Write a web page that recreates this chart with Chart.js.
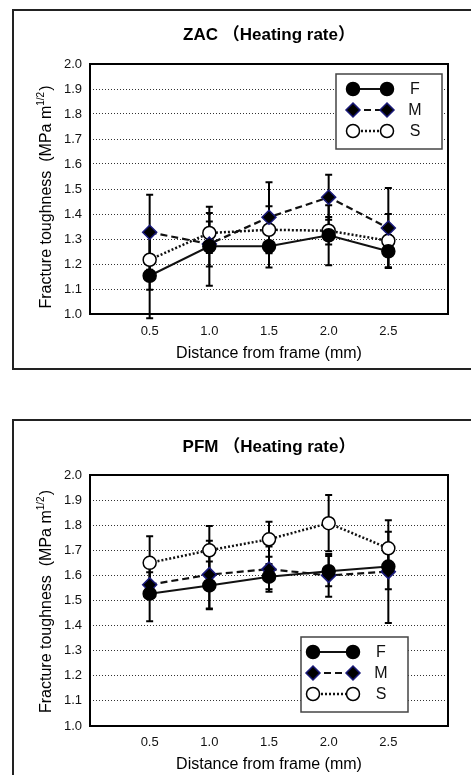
<!DOCTYPE html>
<html>
<head>
<meta charset="utf-8">
<script src="https://cdn.jsdelivr.net/npm/chart.js@4"></script>
<style>
  html, body { margin: 0; padding: 0; background: #fff; width: 471px; height: 775px; overflow: hidden; position: relative; }
  .panel { position: absolute; left: 12px; width: 480px; border: 2px solid #222; box-sizing: border-box; }
  #p1 { top: 9px; height: 361px; }
  #p2 { top: 419px; height: 400px; }
  canvas { position: absolute; left: 15px; }
  #c1 { top: 12px; }
  #c2 { top: 422px; }
</style>
</head>
<body>
<div class="panel" id="p1"></div>
<div class="panel" id="p2"></div>
<canvas id="c1" width="456" height="355"></canvas>
<canvas id="c2" width="456" height="353"></canvas>
<script>
// Fracture toughness vs distance from frame — 2 panel (ZAC / PFM)
const distances   = [0.5, 1.0, 1.5, 2.0, 2.5];
const xTickLabels = ['0.5', '1.0', '1.5', '2.0', '2.5'];

// ZAC
const zacF    = [1.153, 1.271, 1.271, 1.315, 1.251];
const zacFErr = [0.17, 0.158, 0.085, 0.12, 0.065];
const zacM    = [1.327, 1.28, 1.387, 1.467, 1.344];
const zacMErr = [0.15, 0.09, 0.14, 0.09, 0.16];
const zacS    = [1.217, 1.324, 1.337, 1.333, 1.293];
const zacSErr = [0.12, 0.08, 0.094, 0.055, 0.107];

// PFM
const pfmF    = [1.527, 1.56, 1.595, 1.617, 1.635];
const pfmFErr = [0.11, 0.095, 0.05, 0.06, 0.09];
const pfmM    = [1.563, 1.603, 1.625, 1.60, 1.615];
const pfmMErr = [0.05, 0.135, 0.09, 0.085, 0.205];
const pfmS    = [1.65, 1.70, 1.744, 1.808, 1.708];
const pfmSErr = [0.106, 0.097, 0.07, 0.112, 0.066];

const FONT = '"Liberation Sans", Arial, sans-serif';

const STYLE = {
  F: { pointStyle: 'circle',  radius: 6.5, bg: '#000', border: '#000',    dash: [],     lw: 2 },
  M: { pointStyle: 'rectRot', radius: 7,   bg: '#000', border: '#1a1a7a', dash: [7, 4], lw: 2.2 },
  S: { pointStyle: 'circle',  radius: 6.5, bg: '#fff', border: '#000',    dash: [2, 2], lw: 2.5 },
};

function ds(name, ys, errs) {
  const st = STYLE[name];
  return {
    label: name,
    data: distances.map((x, i) => ({ x, y: ys[i] })),
    errs: errs,
    borderColor: '#111', borderWidth: st.lw, borderDash: st.dash,
    pointStyle: st.pointStyle, pointRadius: st.radius,
    pointBackgroundColor: st.bg, pointBorderColor: st.border, pointBorderWidth: 1.5,
    tension: 0, clip: false,
  };
}

// error bars: ve truoc marker
const errorBars = {
  id: 'errorBars',
  beforeDatasetsDraw(chart) {
    const { ctx, scales: { x, y } } = chart;
    ctx.save();
    ctx.strokeStyle = '#000'; ctx.lineWidth = 2; ctx.setLineDash([]);
    chart.data.datasets.forEach(d => {
      d.data.forEach((p, i) => {
        const px = x.getPixelForValue(p.x);
        const top = y.getPixelForValue(p.y + d.errs[i]);
        const bot = y.getPixelForValue(p.y - d.errs[i]);
        ctx.beginPath();
        ctx.moveTo(px, top); ctx.lineTo(px, bot);
        ctx.moveTo(px - 3.5, top); ctx.lineTo(px + 3.5, top);
        ctx.moveTo(px - 3.5, bot); ctx.lineTo(px + 3.5, bot);
        ctx.stroke();
      });
    });
    ctx.restore();
  }
};

function marker(ctx, d, x, y) {
  ctx.beginPath();
  const r = d.pointRadius;
  if (d.pointStyle === 'rectRot') {
    ctx.moveTo(x, y - r); ctx.lineTo(x + r, y); ctx.lineTo(x, y + r); ctx.lineTo(x - r, y); ctx.closePath();
  } else {
    ctx.arc(x, y, r, 0, Math.PI * 2);
  }
  ctx.fillStyle = d.pointBackgroundColor; ctx.fill();
  ctx.lineWidth = d.pointBorderWidth; ctx.strokeStyle = d.pointBorderColor; ctx.stroke();
}

// khung, tieu de, ten truc y (co chi so tren), chu thich
function makeDecor(o) {
  return {
    id: 'decor',
    afterDraw(chart) {
      const { ctx, chartArea: a } = chart;
      ctx.save();
      ctx.setLineDash([]);
      ctx.strokeStyle = '#000'; ctx.lineWidth = 2;
      ctx.strokeRect(a.left, a.top, a.right - a.left, a.bottom - a.top);

      ctx.fillStyle = '#000';
      ctx.font = 'bold 17px ' + FONT + ', "Noto Sans CJK JP"';
      ctx.textAlign = 'center'; ctx.textBaseline = 'middle';
      ctx.fillText(o.title, (a.left + a.right) / 2, o.titleY);

      // y title
      ctx.translate(o.yTitleX, (a.top + a.bottom) / 2 + o.yTitleShift);
      ctx.rotate(-Math.PI / 2);
      ctx.textAlign = 'left'; ctx.textBaseline = 'alphabetic';
      const t1 = 'Fracture toughness  (MPa m', t2 = '1/2', t3 = ')';
      ctx.font = '16px ' + FONT; const w1 = ctx.measureText(t1).width, w3 = ctx.measureText(t3).width;
      ctx.font = '10px ' + FONT; const w2 = ctx.measureText(t2).width;
      let sx = -(w1 + w2 + w3 + 1) / 2;
      ctx.fillStyle = '#000';
      ctx.font = '16px ' + FONT; ctx.fillText(t1, sx, 6); sx += w1;
      ctx.font = '10px ' + FONT; ctx.fillText(t2, sx, -1); sx += w2 + 1;
      ctx.font = '16px ' + FONT; ctx.fillText(t3, sx, 6);
      ctx.setTransform(1, 0, 0, 1, 0, 0);

      // legend
      const lg = o.legend;
      ctx.fillStyle = '#fff'; ctx.fillRect(lg.x, lg.y, lg.w, lg.h);
      ctx.strokeStyle = '#444'; ctx.lineWidth = 1.5; ctx.strokeRect(lg.x, lg.y, lg.w, lg.h);
      chart.data.datasets.forEach((d, i) => {
        const yy = lg.y + 15 + i * 21;
        ctx.setLineDash(d.borderDash); ctx.lineWidth = d.borderWidth; ctx.strokeStyle = d.borderColor;
        ctx.beginPath(); ctx.moveTo(lg.x + lg.m1, yy); ctx.lineTo(lg.x + lg.m2, yy); ctx.stroke();
        ctx.setLineDash([]);
        marker(ctx, d, lg.x + lg.m1, yy);
        marker(ctx, d, lg.x + lg.m2, yy);
        ctx.fillStyle = '#111'; ctx.font = '16px ' + FONT;
        ctx.textAlign = 'center'; ctx.textBaseline = 'middle';
        ctx.fillText(d.label, lg.x + lg.tx, yy + 1);
      });
      ctx.restore();
    }
  };
}

function makeChart(id, sets, o) {
  return new Chart(document.getElementById(id), {
    type: 'line',
    data: { datasets: sets },
    plugins: [errorBars, makeDecor(o)],
    options: {
      responsive: false, animation: false, devicePixelRatio: 1,
      layout: { padding: { top: o.padTop, right: 23, left: 0, bottom: 0 } },
      plugins: { legend: { display: false }, tooltip: { enabled: false } },
      scales: {
        x: {
          type: 'linear', min: 0, max: 3,
          grid: { display: false }, border: { display: false },
          ticks: {
            stepSize: 0.5, padding: o.xTickPad, color: '#111', maxRotation: 0, autoSkip: false,
            font: { family: FONT, size: 13 },
            callback: (v) => { const i = distances.indexOf(v); return i >= 0 ? xTickLabels[i] : ''; },
          },
          title: { display: true, text: 'Distance from frame (mm)', color: '#000',
                   font: { family: FONT, size: 16 }, padding: { top: 0, bottom: o.xTitlePad } },
          afterFit: (s) => { s.height = o.xHeight; },
        },
        y: {
          min: 1.0, max: 2.0,
          grid: { color: '#333', lineWidth: 1, drawTicks: false },
          border: { display: false, dash: [1, 2] },
          ticks: { stepSize: 0.1, padding: 8, color: '#111', font: { family: FONT, size: 13 },
                   callback: (v) => v.toFixed(1) },
          afterFit: (s) => { s.width = 75; },
        },
      },
    },
  });
}

makeChart('c1', [ds('F', zacF, zacFErr), ds('M', zacM, zacMErr), ds('S', zacS, zacSErr)], {
  title: 'ZAC （Heating rate）', titleY: 23, padTop: 52, xHeight: 53, xTickPad: 2, xTitlePad: 4,
  yTitleX: 30, yTitleShift: 8,
  legend: { x: 321, y: 62, w: 106, h: 75, m1: 17, m2: 51, tx: 79 },
});

makeChart('c2', [ds('F', pfmF, pfmFErr), ds('M', pfmM, pfmMErr), ds('S', pfmS, pfmSErr)], {
  title: 'PFM （Heating rate）', titleY: 25, padTop: 53, xHeight: 49, xTickPad: 1, xTitlePad: 1,
  yTitleX: 30, yTitleShift: 1,
  legend: { x: 286, y: 215, w: 107, h: 75, m1: 12, m2: 52, tx: 80 },
});
</script>
</body>
</html>
